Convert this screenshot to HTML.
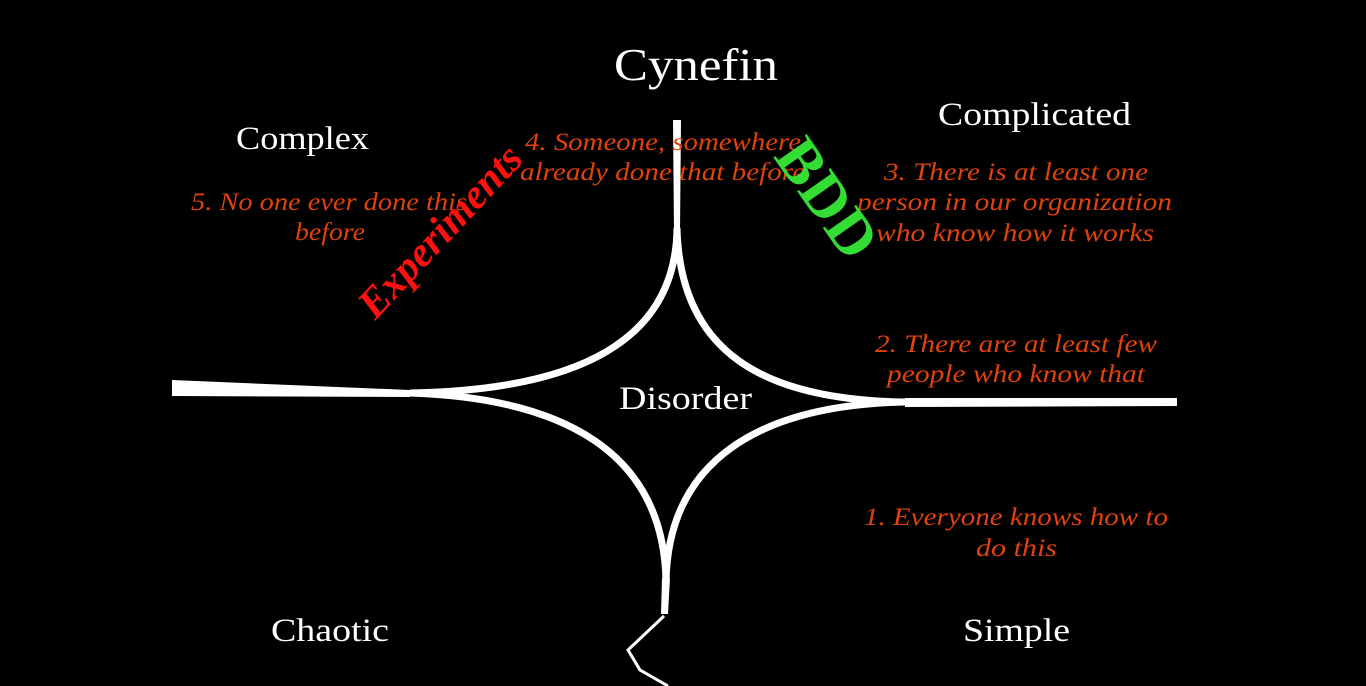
<!DOCTYPE html>
<html><head><meta charset="utf-8"><style>
html,body{margin:0;padding:0;background:#000;width:1366px;height:686px;overflow:hidden}
svg{display:block}
text{font-family:"Liberation Serif",serif}
.w{fill:#fff}
.o{fill:#e0420c;font-style:italic;font-size:25px}
</style></head><body>
<svg width="1366" height="686" viewBox="0 0 1366 686">
<rect width="1366" height="686" fill="#000"/>
<g fill="#fff">
<polygon points="172,380 410,390 410,397 172,396"/>
<polygon points="905,398 1177,398 1177,406 905,407"/>
<polygon points="673,120 681,120 680,232 674,232"/>
<polygon points="662,578 670,578 668,614 661,614"/>
</g>
<g fill="none" stroke="#fff" stroke-width="7">
<path d="M677,228 C676,340 580,390 410,393"/>
<path d="M677,228 C680,350 760,400 905,402"/>
<path d="M410,393 C560,398 664,450 666,582"/>
<path d="M905,402 C760,405 668,460 666,582"/>
</g>
<path d="M664,616 L628,650 L640,670 L668,686" fill="none" stroke="#fff" stroke-width="3"/>
<text x="614" y="80" class="w" font-size="46" textLength="164" lengthAdjust="spacingAndGlyphs">Cynefin</text>
<text x="236" y="149" class="w" font-size="33" textLength="133" lengthAdjust="spacingAndGlyphs">Complex</text>
<text x="938" y="125" class="w" font-size="33" textLength="193" lengthAdjust="spacingAndGlyphs">Complicated</text>
<text x="619" y="409" class="w" font-size="33" textLength="133" lengthAdjust="spacingAndGlyphs">Disorder</text>
<text x="271" y="641" class="w" font-size="33" textLength="118" lengthAdjust="spacingAndGlyphs">Chaotic</text>
<text x="963" y="641" class="w" font-size="33" textLength="107" lengthAdjust="spacingAndGlyphs">Simple</text>
<text x="191" y="210" class="o" textLength="276" lengthAdjust="spacingAndGlyphs">5. No one ever done this</text>
<text x="295" y="240" class="o" textLength="70" lengthAdjust="spacingAndGlyphs">before</text>
<text x="525" y="150" class="o" textLength="276" lengthAdjust="spacingAndGlyphs">4. Someone, somewhere</text>
<text x="520" y="180" class="o" textLength="285" lengthAdjust="spacingAndGlyphs">already done that before</text>
<text x="884" y="180" class="o" textLength="264" lengthAdjust="spacingAndGlyphs">3. There is at least one</text>
<text x="857" y="210" class="o" textLength="315" lengthAdjust="spacingAndGlyphs">person in our organization</text>
<text x="876" y="241" class="o" textLength="278" lengthAdjust="spacingAndGlyphs">who know how it works</text>
<text x="875" y="352" class="o" textLength="282" lengthAdjust="spacingAndGlyphs">2. There are at least few</text>
<text x="887" y="382" class="o" textLength="258" lengthAdjust="spacingAndGlyphs">people who know that</text>
<text x="864" y="525" class="o" textLength="304" lengthAdjust="spacingAndGlyphs">1. Everyone knows how to</text>
<text x="976" y="556" class="o" textLength="81" lengthAdjust="spacingAndGlyphs">do this</text>
<text transform="translate(443,234) rotate(-47)" fill="#ff1010" font-size="42" font-weight="bold" font-style="italic" text-anchor="middle" dominant-baseline="middle">Experiments</text>
<text transform="translate(822,202) rotate(55)" fill="#33dd33" font-size="62" font-weight="bold" text-anchor="middle" dominant-baseline="middle">BDD</text>
</svg>
</body></html>
